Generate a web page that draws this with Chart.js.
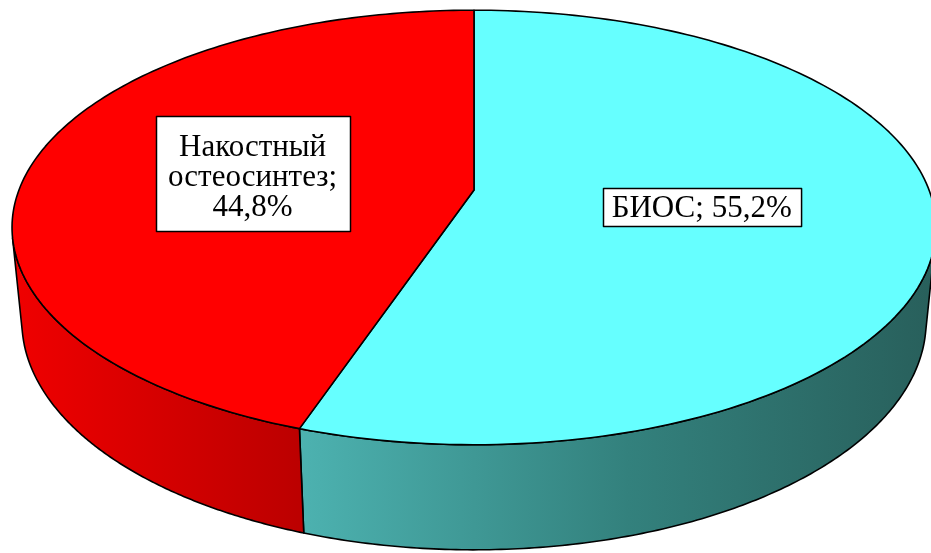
<!DOCTYPE html>
<html>
<head>
<meta charset="utf-8">
<script src="https://cdn.jsdelivr.net/npm/chart.js@4/dist/chart.umd.min.js"></script>
<style>
  html, body { margin: 0; padding: 0; background: #ffffff; }
  #wrap { width: 931px; height: 553px; position: relative; }
</style>
</head>
<body>
<div id="wrap"><canvas id="pie" width="931" height="553"></canvas></div>
<script>
// Chart data
const categories = ['БИОС', 'Накостный остеосинтез'];
const shares = [55.2, 44.8];
const shareLabels = ['55,2%', '44,8%'];

// Slice colours: top face, and side-wall gradient stops (left to right)
const topColors = ['#66FFFF', '#FF0000'];
const sideStops = [
  ['#63D9D7', '#4BAFAD', '#33817D', '#285F5B'],
  ['#F00000', '#B80000', '#900000', '#700000']
];

// Perspective view of the pie disc (unit radius)
const view = {
  x0: 474, y0: 190,      // screen position of the disc centre
  focal: 2339,           // focal length in px
  dist: 5.14,            // camera distance (in radii)
  elev: 27.6 * Math.PI / 180,
  thick: 0.2345          // disc thickness (in radii)
};

function project(px, py, pz) {
  const sb = Math.sin(view.elev), cb = Math.cos(view.elev);
  const d = view.dist - py * cb - pz * sb;
  return {
    x: view.x0 + view.focal * px / d,
    y: view.y0 + view.focal * (py * sb - pz * cb) / d
  };
}
function rim(phi, z) { return project(Math.cos(phi), Math.sin(phi), z); }

function labelLinesFor(i, ctx, maxW) {
  const words = (categories[i] + '; ' + shareLabels[i]).split(' ');
  const lines = [];
  let cur = '';
  for (const w of words) {
    const test = cur ? cur + ' ' + w : w;
    if (cur && ctx.measureText(test).width > maxW) { lines.push(cur); cur = w; }
    else cur = test;
  }
  if (cur) lines.push(cur);
  return lines;
}

const pie3d = {
  id: 'pie3d',
  beforeDatasetsDraw(chart) {
    const ctx = chart.ctx;
    const arcs = chart.getDatasetMeta(0).data;
    const steps = 160;
    const cb = Math.cos(view.elev);
    // outer wall is visible where the surface faces the camera
    const phiS = Math.asin(1 / (view.dist * cb));
    const visA = phiS, visB = Math.PI - phiS;
    const left = rim(Math.PI - phiS, 0).x, right = rim(phiS, 0).x;

    ctx.save();
    ctx.lineJoin = 'round';
    ctx.strokeStyle = '#000000';
    ctx.lineWidth = 1.6;

    // side walls
    arcs.forEach((arc, i) => {
      const a = Math.max(arc.startAngle, visA);
      const b = Math.min(arc.endAngle, visB);
      if (b <= a) return;
      const g = ctx.createLinearGradient(left, 0, right, 0);
      const st = sideStops[i];
      st.forEach((c, k) => g.addColorStop(k / (st.length - 1), c));
      ctx.beginPath();
      for (let s = 0; s <= steps; s++) {
        const p = rim(a + (b - a) * s / steps, 0);
        s === 0 ? ctx.moveTo(p.x, p.y) : ctx.lineTo(p.x, p.y);
      }
      for (let s = steps; s >= 0; s--) {
        const p = rim(a + (b - a) * s / steps, -view.thick);
        ctx.lineTo(p.x, p.y);
      }
      ctx.closePath();
      ctx.fillStyle = g;
      ctx.fill();
      ctx.stroke();
    });

    // top faces
    const c = project(0, 0, 0);
    arcs.forEach((arc, i) => {
      const a = arc.startAngle, b = arc.endAngle;
      ctx.beginPath();
      ctx.moveTo(c.x, c.y);
      for (let s = 0; s <= steps; s++) {
        const p = rim(a + (b - a) * s / steps, 0);
        ctx.lineTo(p.x, p.y);
      }
      ctx.closePath();
      ctx.fillStyle = topColors[i];
      ctx.fill();
      ctx.stroke();
    });

    // data labels
    ctx.font = '31px "Liberation Serif", "Times New Roman", serif';
    ctx.textAlign = 'center';
    ctx.textBaseline = 'middle';
    const padX = 9, padY = 3.5, wrapW = 200;
    arcs.forEach((arc, i) => {
      const mid = (arc.startAngle + arc.endAngle) / 2;
      const at = project(0.5 * Math.cos(mid), 0.5 * Math.sin(mid), 0);
      const lines = labelLinesFor(i, ctx, wrapW);
      const multi = lines.length > 1;
      const lineH = multi ? 30 : 31;
      const tw = Math.max(...lines.map(l => ctx.measureText(l).width));
      const bw = (multi ? Math.max(tw, 176) : tw) + 2 * padX;
      const bh = lines.length * lineH + 2 * padY + (multi ? 18 : 0);
      const bx = Math.round(at.x - bw / 2) + 0.5, by = Math.round(at.y - bh / 2) + 0.5;
      ctx.fillStyle = '#FFFFFF';
      ctx.fillRect(bx, by, bw, bh);
      ctx.lineWidth = 1.5;
      ctx.strokeRect(bx, by, bw, bh);
      ctx.fillStyle = '#000000';
      const shift = multi ? 5 : 1;
      lines.forEach((l, k) => {
        ctx.fillText(l, at.x, at.y + (k - (lines.length - 1) / 2) * lineH + shift);
      });
    });
    ctx.restore();
    return false;
  }
};

new Chart(document.getElementById('pie'), {
  type: 'pie',
  data: {
    labels: categories,
    datasets: [{ data: shares, backgroundColor: topColors, borderWidth: 0 }]
  },
  options: {
    responsive: false,
    animation: false,
    events: [],
    plugins: { legend: { display: false }, tooltip: { enabled: false } }
  },
  plugins: [pie3d]
});
</script>
</body>
</html>
